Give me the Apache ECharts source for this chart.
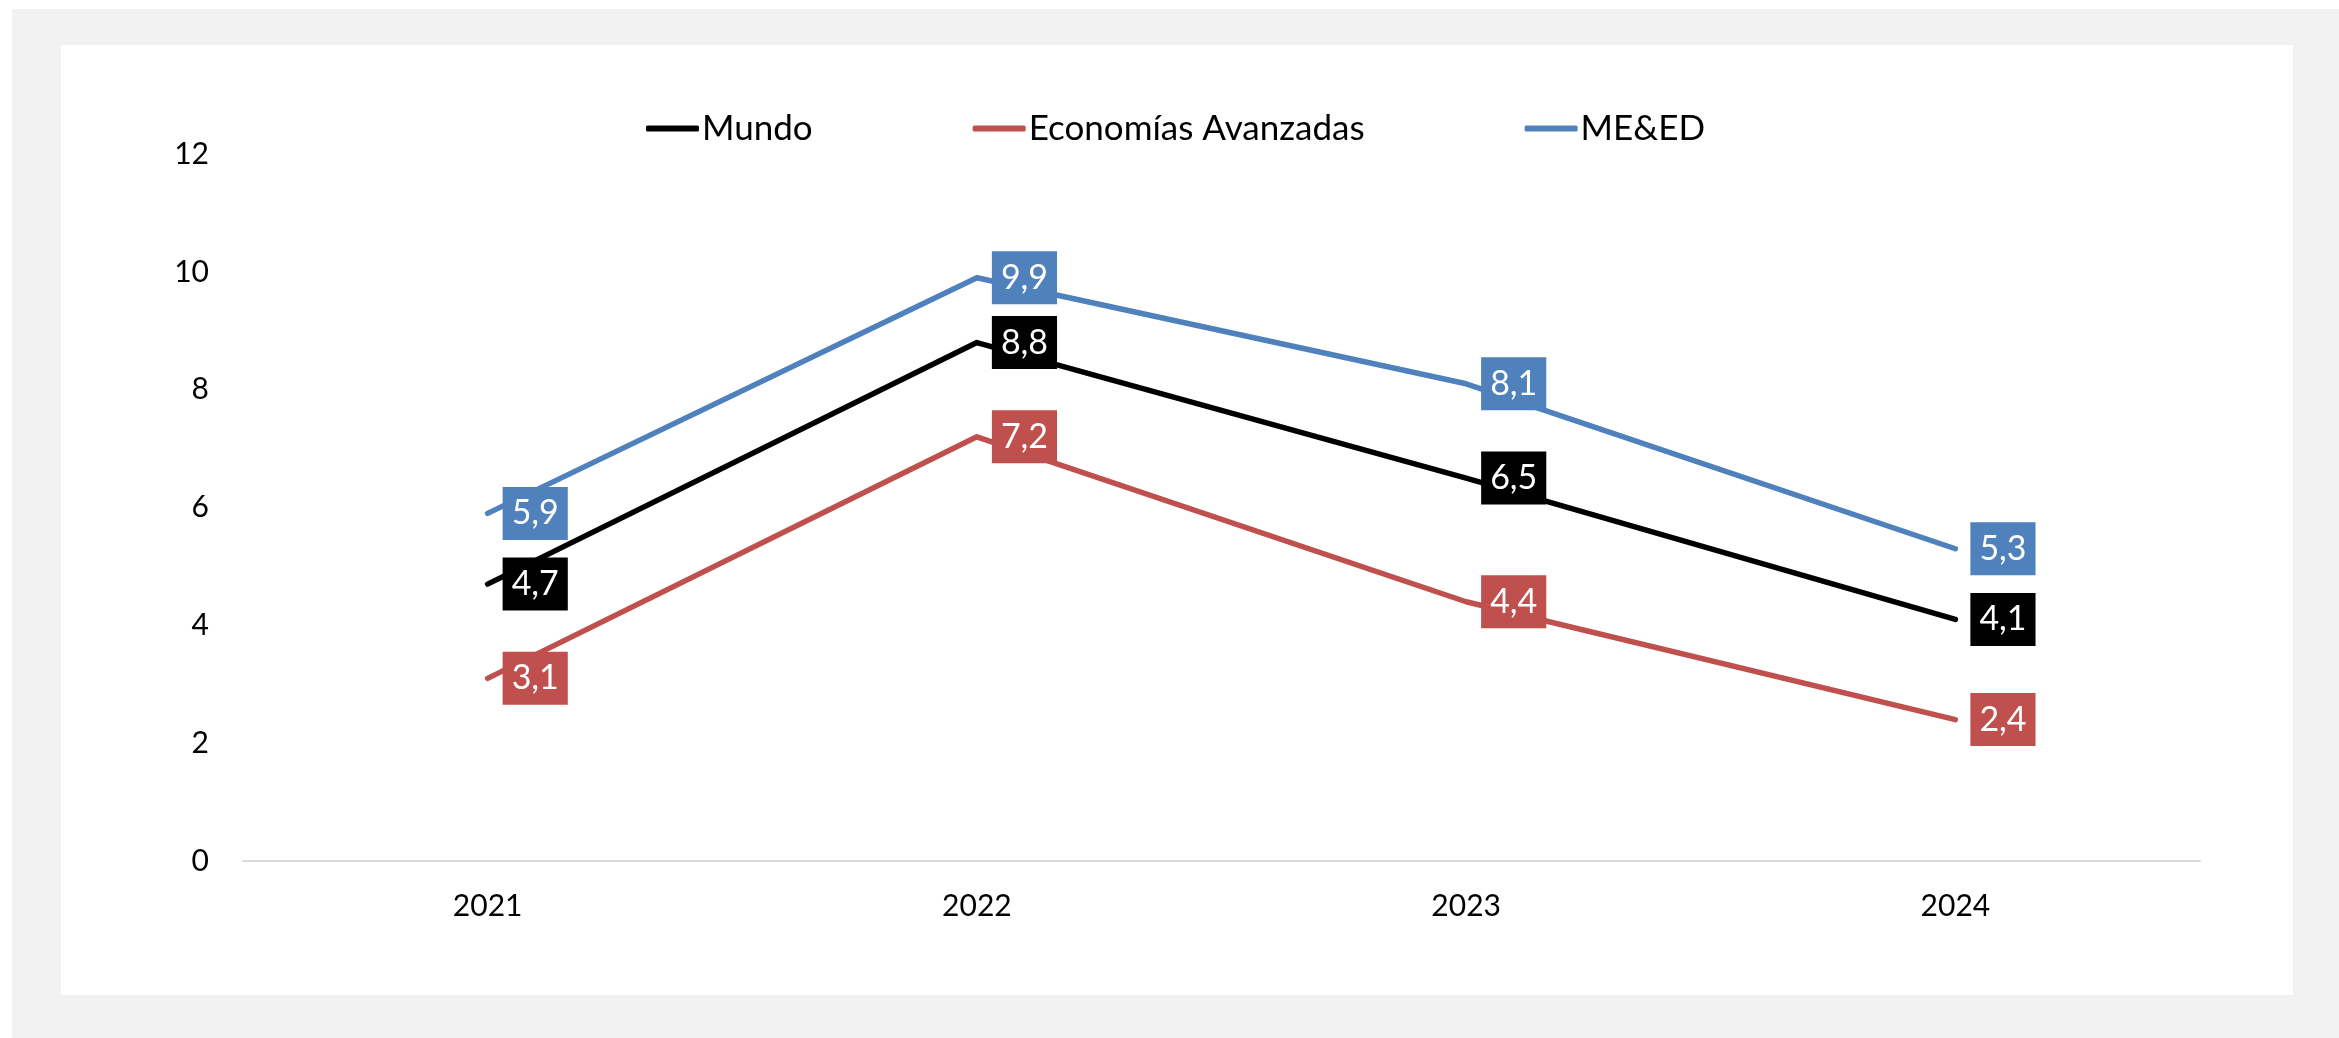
<!DOCTYPE html>
<html>
<head>
<meta charset="utf-8">
<script src="https://cdn.jsdelivr.net/npm/echarts@6/dist/echarts.min.js"></script>
<style>
  body { margin: 0; background: #fff; }
  .outer { position: absolute; left: 12px; top: 9px; width: 2327px; height: 1029px; background: #f2f2f2; }
  .inner { position: absolute; left: 61px; top: 45px; width: 2232px; height: 950px; background: #fff; }
  #chart { position: absolute; left: 0; top: 0; width: 2339px; height: 1038px; }
</style>
</head>
<body>
<div class="outer"></div>
<div class="inner"></div>
<div id="chart"></div>
<script>
const years = ['2021', '2022', '2023', '2024'];
const mundo = [4.7, 8.8, 6.5, 4.1];
const avanzadas = [3.1, 7.2, 4.4, 2.4];
const meed = [5.9, 9.9, 8.1, 5.3];

const font = 'Lato, "Open Sans", sans-serif';

function makeSeries(name, data, color) {
  return {
    name: name,
    type: 'line',
    data: data,
    symbol: 'circle',
    symbolSize: 2,
    itemStyle: { color: color },
    lineStyle: { color: color, width: 5.5, cap: 'round', join: 'round' },
    label: {
      show: true,
      position: 'right',
      distance: 14,
      color: '#fff',
      fontFamily: font,
      fontSize: 34,
      backgroundColor: color,
      padding: [10, 9, 9, 9],
      formatter: p => String(p.value).replace('.', ',')
    },
    emphasis: { disabled: true }
  };
}

const chart = echarts.init(document.getElementById('chart'));
chart.setOption({
  backgroundColor: 'transparent',
  animation: false,
  textStyle: { fontFamily: font },
  legend: {
    left: 641,
    top: 106,
    itemGap: 160,
    itemWidth: 53,
    itemHeight: 6,
    icon: 'roundRect',
    textStyle: { color: '#000', fontSize: 35, fontFamily: font, padding: [0, 0, 0, -2] },
    data: ['Mundo', 'Economías Avanzadas', 'ME&ED']
  },
  grid: { left: 243, right: 139, top: 154, bottom: 177, containLabel: false },
  xAxis: {
    type: 'category',
    data: years,
    boundaryGap: true,
    axisLine: { lineStyle: { color: '#d9d9d9', width: 2 } },
    axisTick: { show: false },
    axisLabel: { color: '#000', fontSize: 30, margin: 30, fontFamily: font }
  },
  yAxis: {
    type: 'value',
    min: 0,
    max: 12,
    interval: 2,
    axisLine: { show: false },
    axisTick: { show: false },
    splitLine: { show: false },
    axisLabel: { color: '#000', fontSize: 30, margin: 34, fontFamily: font }
  },
  series: [
    makeSeries('Mundo', mundo, '#000000'),
    makeSeries('Economías Avanzadas', avanzadas, '#C0504D'),
    makeSeries('ME&ED', meed, '#4F81BD')
  ]
});
</script>
</body>
</html>
